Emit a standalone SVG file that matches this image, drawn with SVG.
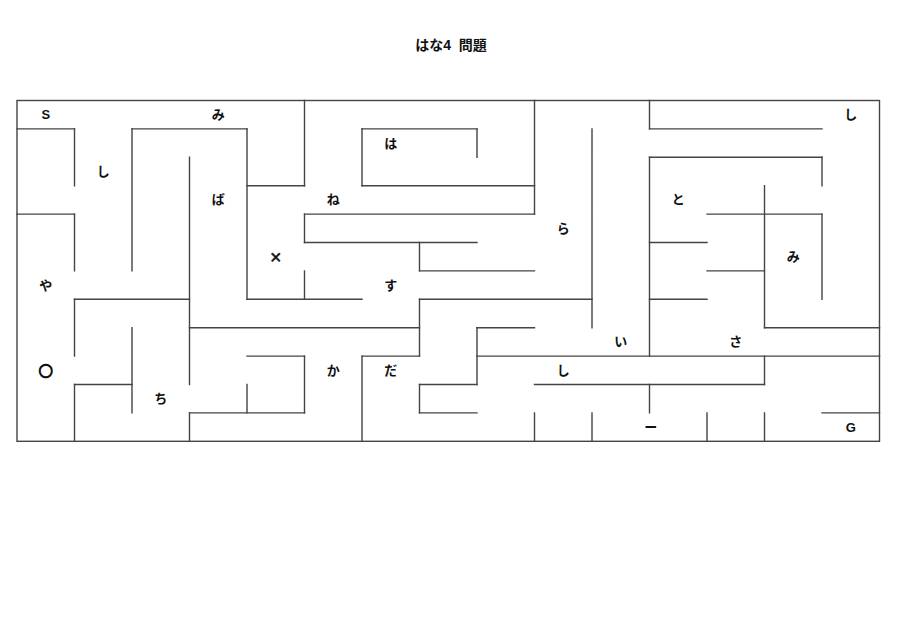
<svg xmlns="http://www.w3.org/2000/svg" width="900" height="637" viewBox="0 0 900 637">
<style>
.w{fill:none;stroke:#444;stroke-width:1.4;stroke-linecap:square}
.t{font-family:"Liberation Sans","Noto Sans CJK JP",sans-serif;font-size:13px;font-weight:bold;fill:#111;text-anchor:middle;dominant-baseline:central}
.c{font-family:"Noto Sans CJK JP",sans-serif}
</style>
<rect width="900" height="637" fill="#fff"/>
<text class="t" x="451" y="45" xml:space="preserve" style="font-size:14px;white-space:pre">はな4  問題</text>
<g id="walls">
<rect class="w" x="17" y="100.5" width="862.5" height="340.8"/>
<path class="w" d="M17 128.9H74.5M132 128.9H247M362 128.9H477M649.5 128.9H822
M649.5 157.3H822
M247 185.7H304.5M362 185.7H534.5
M17 214.1H74.5M304.5 214.1H534.5M707 214.1H822
M304.5 242.5H477M649.5 242.5H707
M419.5 270.9H534.5M707 270.9H764.5
M74.5 299.3H189.5M247 299.3H362M419.5 299.3H592M649.5 299.3H707
M189.5 327.7H419.5M477 327.7H534.5M764.5 327.7H879.5
M247 356.1H304.5M362 356.1H419.5M477 356.1H879.5
M74.5 384.5H132M419.5 384.5H477M534.5 384.5H764.5
M189.5 412.9H304.5M419.5 412.9H477M822 412.9H879.5"/>
<path class="w" d="M74.5 128.9V185.7M74.5 214.1V270.9M74.5 299.3V356.1M74.5 384.5V441.3
M132 128.9V270.9M132 327.7V412.9
M189.5 157.3V384.5M189.5 412.9V441.3
M247 128.9V299.3M247 384.5V412.9
M304.5 100.5V185.7M304.5 214.1V242.5M304.5 270.9V299.3M304.5 356.1V412.9
M362 128.9V185.7M362 356.1V441.3
M419.5 242.5V270.9M419.5 299.3V356.1M419.5 384.5V412.9
M477 128.9V157.3M477 327.7V384.5
M534.5 100.5V214.1M534.5 412.9V441.3
M592 128.9V327.7M592 412.9V441.3
M649.5 100.5V128.9M649.5 157.3V356.1M649.5 384.5V412.9
M707 412.9V441.3
M764.5 185.7V327.7M764.5 356.1V384.5M764.5 412.9V441.3
M822 157.3V185.7M822 214.1V299.3"/>
</g>
<g id="labels">
<text class="t" x="45.8" y="114.7">S</text>
<text class="t" x="218.3" y="114.7">み</text>
<text class="t" x="850.8" y="114.7">し</text>
<text class="t" x="390.8" y="143.1">は</text>
<text class="t" x="103.3" y="171.5">し</text>
<text class="t" x="218.3" y="199.9">ば</text>
<text class="t" x="333.3" y="199.9">ね</text>
<text class="t" x="678.3" y="199.9">と</text>
<text class="t" x="563.3" y="228.3">ら</text>
<text class="t c" x="275.8" y="256.7" style="stroke:#111;stroke-width:0.6">×</text>
<text class="t" x="793.3" y="256.7">み</text>
<text class="t" x="45.8" y="285.1">や</text>
<text class="t" x="390.8" y="285.1">す</text>
<text class="t" x="620.8" y="341.9">い</text>
<text class="t" x="735.8" y="341.9">さ</text>
<text class="t c" x="45.8" y="370.3" style="font-size:14px;stroke:#111;stroke-width:1.3">○</text>
<text class="t" x="333.3" y="370.3">か</text>
<text class="t" x="390.8" y="370.3">だ</text>
<text class="t" x="563.3" y="370.3">し</text>
<text class="t" x="160.8" y="398.7">ち</text>
<text class="t" x="650.8" y="427.1">ー</text>
<text class="t" x="850.8" y="427.1">G</text>
</g>
</svg>
